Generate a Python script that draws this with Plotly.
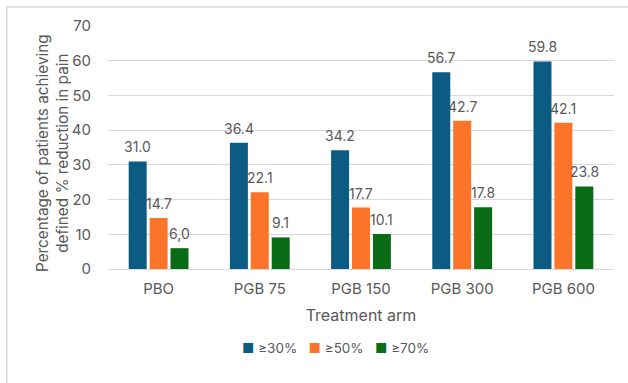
import plotly.graph_objects as go

categories = ["PBO", "PGB 75", "PGB 150", "PGB 300", "PGB 600"]
series_names = ["≥30%", "≥50%", "≥70%"]
vals_30 = [31.0, 36.4, 34.2, 56.7, 59.8]
vals_50 = [14.7, 22.1, 17.7, 42.7, 42.1]
vals_70 = [6.0, 9.1, 10.1, 17.8, 23.8]
labels_30 = ["31.0", "36.4", "34.2", "56.7", "59.8"]
labels_50 = ["14.7", "22.1", "17.7", "42.7", "42.1"]
labels_70 = ["6,0", "9.1", "10.1", "17.8", "23.8"]
colors = ["#0C5B82", "#FC742A", "#0B6C17"]

FONT = "Inter, Open Sans, sans-serif"
GRAY = "#595959"

W, H = 628, 383
ML, MR, MT, MB = 108, 14, 26, 114
BARGAP = 0.38
plot_w = W - ML - MR
plot_h = H - MT - MB
slot = plot_w / len(categories) * (1 - BARGAP) / len(series_names)

fig = go.Figure()
annotations = []
all_vals = [vals_30, vals_50, vals_70]
all_labs = [labels_30, labels_50, labels_70]
for si, (name, vals, labs, col) in enumerate(zip(series_names, all_vals, all_labs, colors)):
    fig.add_trace(go.Bar(
        x=categories, y=vals, name=name, marker=dict(color=col, line=dict(width=0)),
        showlegend=False, hoverinfo="skip",
    ))
    for c, v, t in zip(categories, vals, labs):
        annotations.append(dict(
            x=c, y=v, xref="x", yref="y", text=t, showarrow=False,
            xanchor="center", yanchor="bottom", yshift=4,
            xshift=(si - 1) * slot,
            font=dict(family=FONT, size=14, color=GRAY),
        ))

# compact legend (coloured squares + labels) as one text line
legend_text = "&nbsp;&nbsp;&nbsp;".join(
    f"<span style='color:{c}'>■</span>&nbsp;{n}" for n, c in zip(series_names, colors)
)
annotations.append(dict(
    x=(335 - ML) / plot_w, y=(H - MB - 348) / plot_h, xref="paper", yref="paper",
    text=legend_text, showarrow=False,
    xanchor="center", yanchor="middle", font=dict(family=FONT, size=13.5, color=GRAY),
))

# y-axis title
annotations.append(dict(
    x=(52 - ML) / plot_w, y=(H - MB - 153) / plot_h, xref="paper", yref="paper",
    text="Percentage of patients achieving<br>defined % reduction in pain",
    textangle=-90, showarrow=False, xanchor="center", yanchor="middle",
    font=dict(family=FONT, size=15.3, color=GRAY),
))

fig.update_layout(
    width=W, height=H,
    margin=dict(l=ML, r=MR, t=MT, b=MB, autoexpand=False),
    paper_bgcolor="white", plot_bgcolor="white",
    barmode="group", bargap=BARGAP, bargroupgap=0.14,
    font=dict(family=FONT, size=14, color=GRAY),
    xaxis=dict(title=dict(text="Treatment arm", standoff=12, font=dict(size=16)),
               showgrid=False, showline=False, ticks="", tickfont=dict(size=15),
               automargin=False, ticklabelstandoff=9),
    yaxis=dict(range=[0, 70], dtick=10, showgrid=True, gridcolor="#D9D9D9", gridwidth=1,
               zeroline=True, zerolinecolor="#D9D9D9", zerolinewidth=1, automargin=False,
               showline=False, ticks="", tickfont=dict(size=15), ticklabelstandoff=16),
    annotations=annotations,
    shapes=[dict(type="rect", xref="paper", yref="paper", x0=-0.2, x1=1.2, y0=-0.6, y1=1.078,
                 line=dict(color="#D9D9D9", width=1.5), fillcolor="rgba(0,0,0,0)", layer="below")],
)

fig.write_html("out.html", config={"displayModeBar": False, "staticPlot": True},
               post_script="document.body.style.margin='0';document.body.style.overflow='hidden';")
